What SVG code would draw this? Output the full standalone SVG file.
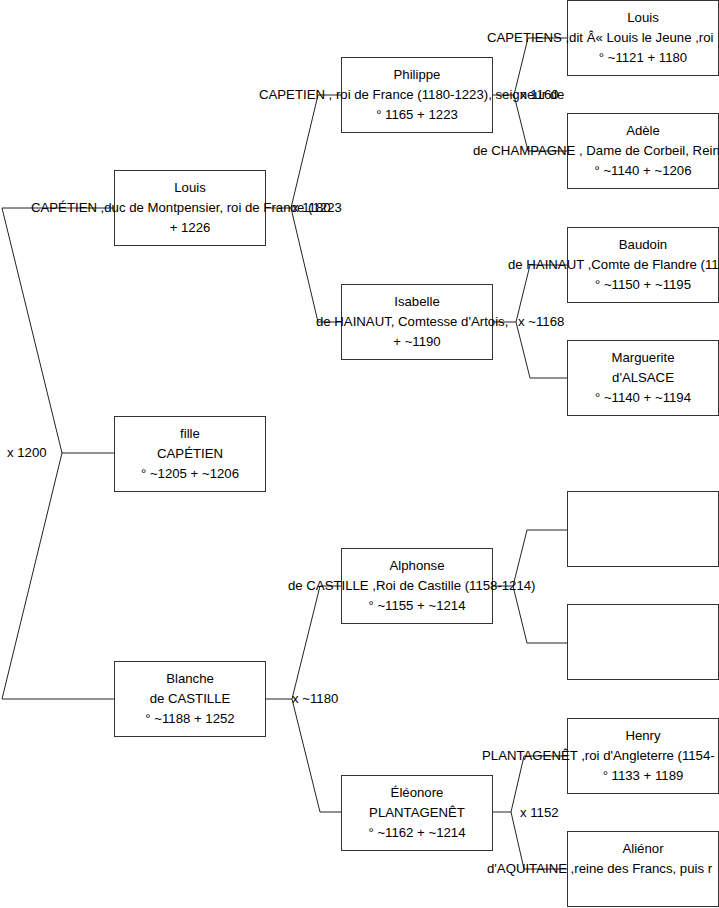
<svg xmlns="http://www.w3.org/2000/svg" width="719" height="908" viewBox="0 0 719 908">
<style>
.box{fill:#fff;stroke:#333;stroke-width:1}
.c{fill:none;stroke:#222;stroke-width:1}
text{font-family:"Liberation Sans",Arial,sans-serif;font-size:13.2px;fill:#000}
.m{text-anchor:middle}
</style>
<rect width="719" height="908" fill="#fff"/>
<g id="connectors">
<path class="c" d="M114,208 H2 L62,453 L2,699 H114 M62,453 H114"/>
<path class="c" d="M265,208 H291 L318,95 H341 M291,208 L318,322 H341"/>
<path class="c" d="M265,699 H292 L320,586 H341 M292,699 L320,812 H341"/>
<path class="c" d="M493,95 H514 L528,38 H567 M514,95 L528,151 H567"/>
<path class="c" d="M493,322 H516 L530,265 H567 M516,322 L530,378 H567"/>
<path class="c" d="M493,586 H513 L527,530 H567 M513,586 L527,643 H567"/>
<path class="c" d="M493,812 H511 L524,756 H567 M511,812 L524,869 H567"/>
</g>
<g id="n-louis8">
<rect class="box" x="114.5" y="170.5" width="151" height="75"/>
<text class="m" x="190" y="192">Louis</text>
<text x="31" y="212">CAPÉTIEN ,duc de Montpensier, roi de France (1223</text>
<text class="m" x="190" y="232">+ 1226</text>
</g>
<g id="n-fille">
<rect class="box" x="114.5" y="416.5" width="151" height="75"/>
<text class="m" x="190" y="438">fille</text>
<text class="m" x="190" y="458">CAPÉTIEN</text>
<text class="m" x="190" y="478">° ~1205 + ~1206</text>
</g>
<g id="n-blanche">
<rect class="box" x="114.5" y="661.5" width="151" height="75"/>
<text class="m" x="190" y="683">Blanche</text>
<text class="m" x="190" y="703">de CASTILLE</text>
<text class="m" x="190" y="723">° ~1188 + 1252</text>
</g>
<g id="n-philippe">
<rect class="box" x="341.5" y="57.5" width="151" height="75"/>
<text class="m" x="417" y="79">Philippe</text>
<text x="259" y="99">CAPETIEN , roi de France (1180-1223), seigneur de</text>
<text class="m" x="417" y="119">° 1165 + 1223</text>
</g>
<g id="n-isabelle">
<rect class="box" x="341.5" y="284.5" width="151" height="75"/>
<text class="m" x="417" y="306">Isabelle</text>
<text x="316" y="326">de HAINAUT, Comtesse d'Artois, </text>
<text class="m" x="417" y="346">+ ~1190</text>
</g>
<g id="n-alphonse">
<rect class="box" x="341.5" y="548.5" width="151" height="75"/>
<text class="m" x="417" y="570">Alphonse</text>
<text x="288" y="590">de CASTILLE ,Roi de Castille (1158-1214)</text>
<text class="m" x="417" y="610">° ~1155 + ~1214</text>
</g>
<g id="n-eleonore">
<rect class="box" x="341.5" y="775.5" width="151" height="75"/>
<text class="m" x="417" y="797">Éléonore</text>
<text class="m" x="417" y="817">PLANTAGENÊT</text>
<text class="m" x="417" y="837">° ~1162 + ~1214</text>
</g>
<g id="n-louis7">
<rect class="box" x="567.5" y="0.5" width="151" height="75"/>
<text class="m" x="643" y="22">Louis</text>
<text x="487" y="42">CAPETIENS ,dit Â« Louis le Jeune ,roi</text>
<text class="m" x="643" y="62">° ~1121 + 1180</text>
</g>
<g id="n-adele">
<rect class="box" x="567.5" y="113.5" width="151" height="75"/>
<text class="m" x="643" y="135">Adèle</text>
<text x="473" y="155">de CHAMPAGNE , Dame de Corbeil, Rein</text>
<text class="m" x="643" y="175">° ~1140 + ~1206</text>
</g>
<g id="n-baudoin">
<rect class="box" x="567.5" y="227.5" width="151" height="75"/>
<text class="m" x="643" y="249">Baudoin</text>
<text x="508" y="269">de HAINAUT ,Comte de Flandre (11</text>
<text class="m" x="643" y="289">° ~1150 + ~1195</text>
</g>
<g id="n-marguerite">
<rect class="box" x="567.5" y="340.5" width="151" height="75"/>
<text class="m" x="643" y="362">Marguerite</text>
<text class="m" x="643" y="382">d'ALSACE</text>
<text class="m" x="643" y="402">° ~1140 + ~1194</text>
</g>
<g id="n-empty1">
<rect class="box" x="567.5" y="491.5" width="151" height="75"/>
</g>
<g id="n-empty2">
<rect class="box" x="567.5" y="604.5" width="151" height="75"/>
</g>
<g id="n-henry">
<rect class="box" x="567.5" y="718.5" width="151" height="75"/>
<text class="m" x="643" y="740">Henry</text>
<text x="482" y="760">PLANTAGENÊT ,roi d'Angleterre (1154-</text>
<text class="m" x="643" y="780">° 1133 + 1189</text>
</g>
<g id="n-alienor">
<rect class="box" x="567.5" y="831.5" width="151" height="75"/>
<text class="m" x="643" y="853">Aliénor</text>
<text x="487" y="873">d'AQUITAINE ,reine des Francs, puis r</text>
</g>
<g id="labels">
<text x="7" y="457">x 1200</text>
<text x="292" y="212">x 1180</text>
<text x="292" y="703">x ~1180</text>
<text x="520" y="99">x 1160</text>
<text x="518" y="326">x ~1168</text>
<text x="520" y="817">x 1152</text>
</g>
</svg>
